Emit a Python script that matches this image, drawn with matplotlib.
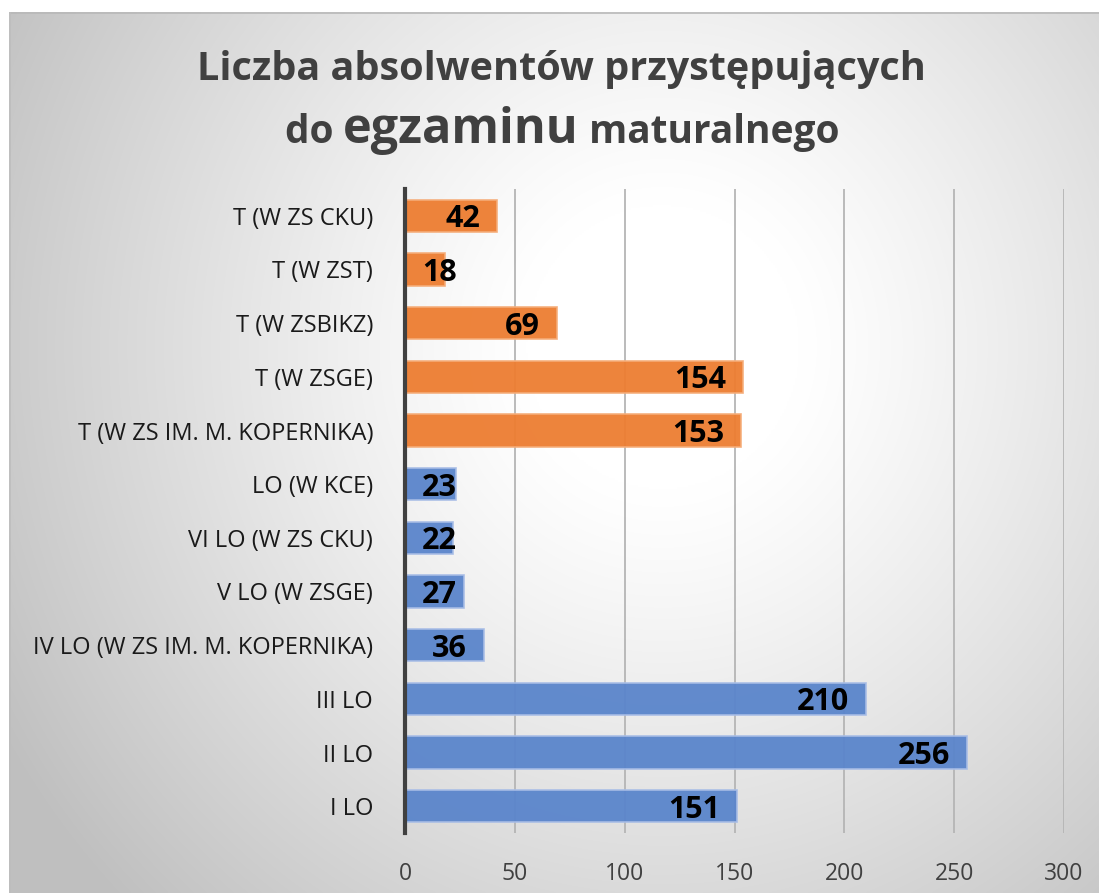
import matplotlib
matplotlib.use("Agg")
import matplotlib.pyplot as plt
import numpy as np

# data (bottom to top, as drawn)
categories = ['I LO', 'II LO', 'III LO', 'IV LO (W ZS IM. M. KOPERNIKA)',
              'V LO (W ZSGE)', 'VI LO (W ZS CKU)', 'LO (W KCE)',
              'T (W ZS IM. M. KOPERNIKA)', 'T (W ZSGE)', 'T (W ZSBIKZ)',
              'T (W ZST)', 'T (W ZS CKU)']
values = [151, 256, 210, 36, 27, 22, 23, 153, 154, 69, 18, 42]
groups = ['LO'] * 7 + ['T'] * 5
x_ticks = [0, 50, 100, 150, 200, 250, 300]

colors = {'LO': '#5a85cb', 'T': '#ed7d31'}
edges = {'LO': '#a8bde6', 'T': '#f5ad7a'}

plt.rcParams['font.family'] = ['Open Sans', 'DejaVu Sans']

W, H = 1099, 893
fig = plt.figure(figsize=(W / 100, H / 100), dpi=100)
fig.patch.set_facecolor('white')

# radial gradient background of the chart frame
x0, y0 = 9, 12
bg = fig.add_axes([x0 / W, 0, 1 - x0 / W, (H - y0) / H], zorder=-5)
gx = np.linspace(0, 1, 600)
gy = np.linspace(0, 1, 500)
X, Y = np.meshgrid(gx, gy)
t = np.sqrt(((X - 0.6) / 0.7) ** 2 + ((Y - 0.38) / 0.9) ** 2)
v = 1 - 0.25 * np.clip((t - 0.18) / 0.82, 0, 1) ** 1.15
img = np.dstack([v, v, v])
bg.imshow(img, aspect='auto', extent=[0, 1, 1, 0], interpolation='bilinear')
bg.set_xlim(0, 1)
bg.set_ylim(1, 0)
bg.axis('off')
bg.plot([0, 1], [0.001, 0.001], color='#b8b8b8', lw=1.2)
bg.plot([0.001, 0.001], [0, 1], color='#bdbdbd', lw=1.2)

# plot area
ax_left, ax_right = 405, 1064
ax_top, ax_bot = 189, 833
ax = fig.add_axes([ax_left / W, (H - ax_bot) / H, (ax_right - ax_left) / W, (ax_bot - ax_top) / H])
ax.patch.set_alpha(0)

ypos = np.arange(len(categories))
for i in range(len(categories)):
    ax.barh(ypos[i], values[i], height=0.6, color=colors[groups[i]], alpha=0.95,
            edgecolor=edges[groups[i]], linewidth=1.2, zorder=3)

ax.set_xlim(0, 300)
ax.set_ylim(-0.5, len(categories) - 0.5)
ax.set_xticks(x_ticks)
ax.set_xticklabels([str(x) for x in x_ticks])
ax.set_yticks(ypos)
ax.set_yticklabels(categories)
ax.tick_params(axis='both', length=0, labelcolor='#404040')
ax.tick_params(axis='x', labelsize=16.5, pad=21)
ax.tick_params(axis='y', labelsize=17, pad=23, labelcolor='#1a1a1a')
ax.grid(axis='x', color='#b5b5b5', lw=1.3, zorder=1)
for s in ['top', 'right', 'bottom']:
    ax.spines[s].set_visible(False)
ax.spines['left'].set_color('#404040')
ax.spines['left'].set_linewidth(3)
ax.spines['left'].set_zorder(5)

# value labels: inside end, but kept off the axis for short bars
fig.canvas.draw()
r = fig.canvas.get_renderer()
pad = 17
for i in range(len(categories)):
    txt = ax.text(0, ypos[i], str(values[i]), fontsize=22, fontweight='bold',
                  color='black', va='center_baseline', ha='left', zorder=6)
    w = txt.get_window_extent(renderer=r).width
    end_px = ax.transData.transform((values[i], 0))[0]
    zero_px = ax.transData.transform((0, 0))[0]
    left_px = max(end_px - pad - w, zero_px + pad)
    xd = ax.transData.inverted().transform((left_px, 0))[0]
    txt.set_x(xd)

# title with the larger middle word
tc = '#404040'
fig.text(561 / W, 1 - 80 / H, 'Liczba absolwentów przystępujących', ha='center',
         va='baseline', fontsize=28.5, fontweight='bold', color=tc)
parts = [('do ', 28), ('egzaminu', 35), (' maturalnego', 28)]
fig.canvas.draw()
widths = []
tmp = []
for s, fs in parts:
    tt = fig.text(0, 0, s, fontsize=fs, fontweight='bold')
    widths.append(tt.get_window_extent(renderer=r).width)
    tmp.append(tt)
for tt in tmp:
    tt.remove()
xs = 562 - sum(widths) / 2
for (s, fs), wd in zip(parts, widths):
    fig.text(xs / W, 1 - 143 / H, s, fontsize=fs, fontweight='bold', color=tc,
             ha='left', va='baseline')
    xs += wd

fig.savefig('out.png', dpi=100)
